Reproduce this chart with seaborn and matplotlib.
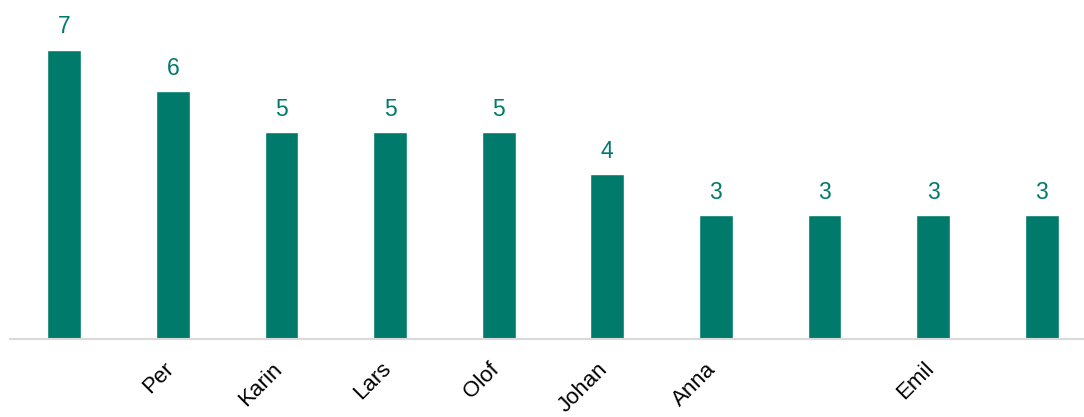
import pandas as pd
import matplotlib.pyplot as plt
import matplotlib.transforms as mtransforms
import seaborn as sns

# bar categories (some ticks are left without a label in the original)
slots = ["s1", "s2", "s3", "s4", "s5", "s6", "s7", "s8", "s9", "s10"]
tick_labels = ["", "Per", "Karin", "Lars", "Olof", "Johan", "Anna", "", "Emil", ""]
counts = [7, 6, 5, 5, 5, 4, 3, 3, 3, 3]

BAR_COLOR = "#007B6B"

sns.set_style("white")
plt.rcParams["font.family"] = ["Liberation Sans", "DejaVu Sans"]

df = pd.DataFrame({"slot": slots, "count": counts})

fig = plt.figure(figsize=(10.84, 4.17), dpi=100)
ax = fig.add_axes([10 / 1084, 78 / 417, 1086 / 1084, 339 / 417])

sns.barplot(data=df, x="slot", y="count", order=slots, color=BAR_COLOR,
            width=0.31, saturation=1, ax=ax)

for i, v in enumerate(counts):
    ax.annotate(str(v), (i, v), xytext=(0, 8), textcoords="offset points",
                ha="center", va="bottom", fontsize=16.5, color=BAR_COLOR)

ax.set_xlim(-0.5, 9.5)
ax.set_ylim(0, 8.2)
ax.set_xlabel("")
ax.set_ylabel("")
ax.set_yticks([])
ax.set_xticks(range(len(slots)))
ax.set_xticklabels(tick_labels, rotation=45, ha="right", rotation_mode="anchor",
                   fontsize=16, color="black")
ax.tick_params(axis="x", length=0, pad=14)

# nudge rotated labels left so their ends sit under the bars
shift = mtransforms.ScaledTranslation(-10 / 100, 0, fig.dpi_scale_trans)
for lbl in ax.get_xticklabels():
    lbl.set_transform(lbl.get_transform() + shift)

for side in ["top", "left", "right"]:
    ax.spines[side].set_visible(False)
ax.spines["bottom"].set_color("#D9D9D9")
ax.spines["bottom"].set_linewidth(1.5)

fig.savefig("out.png", dpi=100)
